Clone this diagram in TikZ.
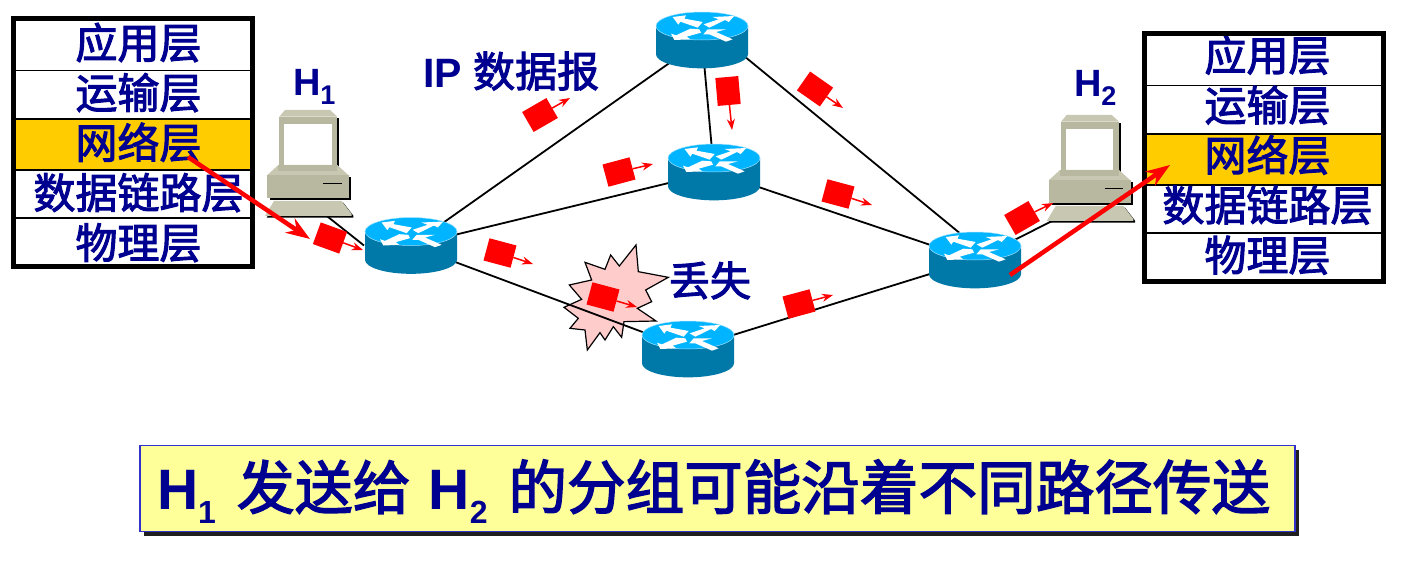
\documentclass[tikz,border=0pt]{standalone}
\usepackage{fontspec}
\usetikzlibrary{arrows.meta,shapes.geometric}
\setmainfont{Liberation Sans}
\newfontfamily\cjk[BoldFont={Noto Sans CJK SC},BoldFeatures={FakeBold=2.4}]{Noto Sans CJK SC}
\definecolor{navy}{HTML}{000090}
\definecolor{gold}{HTML}{FFCC00}
\definecolor{routertop}{HTML}{00B4FF}
\definecolor{routerside}{HTML}{0078A8}
\definecolor{hostbody}{HTML}{B8B8A0}
\definecolor{hostlight}{HTML}{C8C8B2}
\definecolor{burstpink}{HTML}{FFCCCC}
\definecolor{bannerfill}{HTML}{FFFF99}
\definecolor{bannerline}{HTML}{3333CC}
\tikzset{
  link/.style={black,line width=1.8pt},
  txt/.style={inner sep=0pt,outer sep=0pt,anchor=base,text=navy,font=\bfseries},
  layerbox/.style={draw=black,line width=1.5pt,minimum width=239pt,inner sep=0pt,outer sep=0pt},
  pkt/.style={fill=red,minimum width=28pt,minimum height=23pt,inner sep=0pt,outer sep=0pt},
  pktarrow/.style={red,line width=1.5pt,-{Stealth[length=11pt,width=8pt]}},
  bigarrow/.style={red,line width=4.5pt,-{Stealth[length=24pt,width=17pt]}},
  hidden/.style={inner sep=0pt,outer sep=0pt},
}
% router: name, x, y
\newcommand{\routerico}[3]{%
  \node[hidden,ellipse,minimum width=94pt,minimum height=58pt] (#1) at (#2,#3) {};
  \begin{scope}[shift={(#2,#3)},x=0.3333pt,y=-0.3333pt]
    \fill[routerside] (-138,-42) -- (138,-42) -- (138,43) arc[start angle=0,end angle=-180,x radius=138,y radius=-42] -- cycle;
    \fill[routertop,draw=white!60!routertop,line width=0.5pt] (0,-42) ellipse[x radius=138,y radius=42];
    \fill[white] (-88,-69) -- (-48,-74) -- (-53,-64) -- (2,-54) -- (-13,-37) -- (-65,-55) -- (-71,-46) -- cycle;
    \fill[white] (5,-47) -- (50,-62) -- (32,-69) -- (97,-72) -- (80,-54) -- (69,-60) -- (22,-37) -- cycle;
    \fill[white] (-8,-32) -- (-35,-34) -- (-78,-14) -- (-93,-19) -- (-83,0) -- (-35,-2) -- (-46,-10) -- (-3,-22) -- cycle;
    \fill[white] (4,-17) -- (17,-32) -- (72,-32) -- (42,-24) -- (92,-2) -- (72,5) -- (22,-17) -- cycle;
  \end{scope}%
}
% host: name, zoom origin x, y
\newcommand{\hostico}[3]{%
  \begin{scope}[shift={(#2,#3)},x=0.3333pt,y=-0.3333pt]
    \fill[black] (93,85) rectangle (267,245);
    \fill[black] (60,260) rectangle (303,331);
    \fill[black] (50,383) -- (77,338) -- (280,338) -- (310,377) -- (310,383) -- cycle;
    \fill[hostlight] (88,80) -- (105,60) -- (240,60) -- (262,80) -- cycle;
    \fill[hostbody] (88,80) rectangle (262,242);
    \fill[white] (102,102) rectangle (245,225);
    \fill[hostlight] (52,255) -- (85,225) -- (262,225) -- (298,258) -- cycle;
    \fill[hostbody] (52,255) rectangle (298,325);
    \fill[hostlight] (45,378) -- (72,333) -- (275,333) -- (305,372) -- (305,378) -- cycle;
    \fill[hostbody] (85,225) rectangle (262,242);
    \draw[black,line width=1.2pt] (220,281) -- (275,281);
  \end{scope}%
}
% one layer: name, cx, top, bottom, text cy, text, fill, text cx
\newcommand{\layerrow}[8]{%
  \node[layerbox,fill=#7,minimum height={(#4)-(#3)},anchor=north] (#1) at (#2,#3) {};
  \node[txt,font=\cjk\bfseries\fontsize{42}{42}\selectfont] (#1-t) at (#8,#5+15.5) {#6};
}
% stack: prefix, cx, dy, text cx, text dy
\newcommand{\stackbox}[5]{%
  \layerrow{#1a}{#2}{18.5+#3}{70.7+#3}{43+#5}{应用层}{white}{#4}
  \layerrow{#1b}{#2}{70.7+#3}{119+#3}{93+#5}{运输层}{white}{#4}
  \layerrow{#1c}{#2}{119+#3}{170+#3}{143+#5}{网络层}{gold}{#4}
  \layerrow{#1d}{#2}{170+#3}{218+#3}{193+#5}{数据链路层}{white}{#4}
  \layerrow{#1e}{#2}{218+#3}{266.5+#3}{243+#5}{物理层}{white}{#4}
  \node[hidden,draw=black,line width=5pt,minimum width=239pt,minimum height=248pt,anchor=north] (#1o) at (#2,18.5+#3) {};
}
% packet: name, x, y, rotation, tip x, tip y
\newcommand{\packet}[6]{%
  \node[pkt,rotate=#4] (#1) at (#2,#3) {};
  \coordinate (#1-tip) at (#5,#6);
  \draw[pktarrow] (#1) -- (#1-tip);
}
\newcommand{\subsc}[1]{\raisebox{-14pt}{\fontsize{32}{32}\selectfont #1}}
\newcommand{\subsm}[1]{\raisebox{-9pt}{\fontsize{27}{27}\selectfont #1}}
\begin{document}
\begin{tikzpicture}[x=1pt,y=-1pt]
\useasboundingbox (0,0) rectangle (1405,562);
\fill[white] (0,0) rectangle (1405,562);

% burst
\node[hidden] (burstc) at (620,300) {};
\begin{scope}[shift={(550,230)},x=0.3333pt,y=-0.3333pt]
\filldraw[fill=burstpink,draw=black,line width=1.2pt,line join=miter] (258,45) -- (265,125) -- (355,142) -- (287,180) -- (305,215) -- (262,235) -- (318,273) -- (222,275) -- (215,322) -- (190,290) -- (165,330) -- (150,308) -- (112,360) -- (105,300) -- (60,295) -- (85,265) -- (42,232) -- (95,208) -- (58,165) -- (125,150) -- (105,97) -- (165,118) -- (182,75) -- (208,108) -- cycle;
\end{scope}

% anchors for routers and hosts (drawn after the links)
\node[hidden,ellipse,minimum width=94pt,minimum height=58pt] (r1) at (411,245.5) {};
\node[hidden,ellipse,minimum width=94pt,minimum height=58pt] (r2) at (702,40) {};
\node[hidden,ellipse,minimum width=94pt,minimum height=58pt] (r3) at (714,172) {};
\node[hidden,ellipse,minimum width=94pt,minimum height=58pt] (r4) at (688,349) {};
\node[hidden,ellipse,minimum width=94pt,minimum height=58pt] (r5) at (975,260) {};
\node[hidden] (h1) at (318,209) {};
\node[hidden] (h2) at (1052,221) {};

\draw[link] (h1) -- (r1.west);
\draw[link] (r1.center) -- (r2.center);
\draw[link] (r1.center) -- (r3.center);
\draw[link] (r1.center) -- (r4.center);
\draw[link] (r2.center) -- (r3.center);
\draw[link] (r2.-20) -- (r5.120);
\draw[link] (r3.center) -- (r5.center);
\draw[link] (r4.center) -- (r5.center);
\draw[link] (r5.center) -- (h2);

\routerico{ra}{411}{245.5}
\routerico{rb}{702}{40}
\routerico{rc}{714}{172}
\routerico{rd}{688}{349}
\routerico{re}{975}{260}
\hostico{ha}{250}{90}
\hostico{hb}{1031.7}{95}

\stackbox{L}{133}{0}{138.5}{0}
\stackbox{R}{1264}{15}{1267.5}{12.5}

\node[txt,font=\bfseries\fontsize{38}{38}\selectfont,anchor=base west] (lh1) at (293,95) {H\subsm{1}};
\node[txt,font=\bfseries\fontsize{38}{38}\selectfont,anchor=base west] (lh2) at (1074,96) {H\subsm{2}};
\node[txt,font=\bfseries\fontsize{41}{41}\selectfont,anchor=base west] (lip) at (423,87) {IP {\cjk\bfseries\fontsize{42}{42}\selectfont 数据报}};
\node[txt,font=\cjk\bfseries\fontsize{41}{41}\selectfont,anchor=base west] (llost) at (669,296) {丢失};

\packet{p1}{330}{238}{-20}{363}{250}
\packet{p2}{540}{115}{30}{570}{98}
\packet{p3}{500}{253}{-15}{533}{264}
\packet{p4}{603}{297}{-15}{637}{307}
\packet{p5}{619}{172}{15}{653}{164}
\packet{p6}{728}{91}{-85}{732}{130}
\packet{p7}{815}{89}{-35}{843}{108}
\packet{p8}{838}{194}{-15}{872}{205}
\packet{p9}{799}{304}{15}{833}{295}
\packet{p10}{1022}{218}{30}{1053}{203}

\coordinate (as) at (188,157);
\coordinate (ae) at (310,239);
\coordinate (bs) at (1010,275);
\coordinate (be) at (1170,165);
\draw[bigarrow] (as) -- (ae);
\draw[bigarrow] (bs) -- (be);

% banner
\node[hidden,fill=black!88,minimum width=1155pt,minimum height=86pt,anchor=north west] (bshadow) at (144,450) {};
\node[hidden,fill=bannerfill,draw=bannerline,line width=1.5pt,minimum width=1155pt,minimum height=86pt,anchor=north west] (banner) at (140,445.5) {};
\node[txt,font=\bfseries\fontsize{57}{57}\selectfont,anchor=base west] (btext) at (157,509) {H\subsc{1}\hspace{5pt} {\cjk\bfseries\fontsize{58}{58}\selectfont 发送给}\hspace{2pt} H\subsc{2}\hspace{5pt} {\cjk\bfseries\fontsize{58.6}{58}\selectfont 的分组可能沿着不同路径传送}};
\end{tikzpicture}
\end{document}
